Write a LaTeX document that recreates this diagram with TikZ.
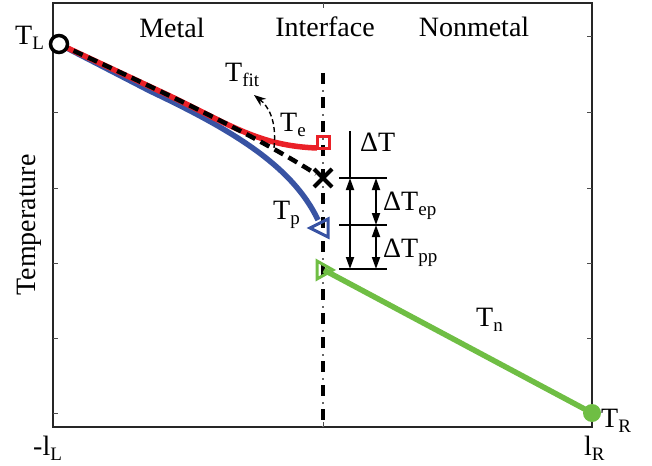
\documentclass[tikz,border=0pt]{standalone}
\usepackage{fontspec}
\setmainfont{Liberation Serif}
\usetikzlibrary{arrows.meta}
\definecolor{tred}{RGB}{234,32,39}
\definecolor{tblue}{RGB}{56,83,163}
\definecolor{tgreen}{RGB}{111,190,68}
\newcommand\Tsub[2]{#1\raisebox{-5pt}{\fontsize{19}{19}\selectfont #2}}
\begin{document}
\begin{tikzpicture}[x=1pt,y=-1pt,
  font=\fontsize{28}{32}\selectfont,
  lab/.style={inner sep=0pt,anchor=base west},
  ttl/.style={inner sep=0pt,anchor=base},
  axisline/.style={line width=1.6pt,black!85},
  tickline/.style={line width=1pt,black!70},
  curve/.style={line width=5.5pt},
  fitline/.style={line width=4.5pt,black,dash pattern=on 10pt off 6pt},
  dimline/.style={line width=1.8pt,black},
  dimarrow/.style={line width=1.8pt,black,{Triangle[length=12pt,width=8pt]}-{Triangle[length=12pt,width=8pt]}}
]
\useasboundingbox (0,0) rectangle (652,465);

% axes box
\coordinate (A00) at (53,3);
\coordinate (A11) at (592,427);
\draw[axisline] (A00) rectangle (A11);
\foreach \yy in {37,113,188,263,338,413}{
  \draw[tickline] (53,\yy) -- (58,\yy);
  \draw[tickline] (592,\yy) -- (587,\yy);
}
\draw[tickline] (323,3) -- (323,8);
\draw[tickline] (323,427) -- (323,422);

% interface line
\coordinate (I0) at (323,73);
\coordinate (I1) at (323,427);
\coordinate (I2) at (323,90);
\draw[line width=4.5pt,black,dash pattern=on 11pt off 13pt] (I0) -- (I1);
\draw[line width=1.5pt,black!60,dash pattern=on 2pt off 22pt] (I2) -- (I1);

% key points
\coordinate (TL) at (59,44);
\coordinate (TR) at (592,413);
\coordinate (Te) at (323,143);
\coordinate (X) at (323,178);
\coordinate (Tp) at (320,228);
\coordinate (Tn) at (324,270);

% blue T_p
\draw[curve,tblue] (TL) -- (150,91) .. controls (230,129) and (292,165) .. (318,220);
% red T_e
\draw[curve,tred] (TL) -- (170,96) .. controls (230,125) and (260,146) .. (317,148);
% black dashed fit
\draw[fitline] (TL) .. controls (150,86) and (250,132) .. (316,174);
% green T_n
\draw[curve,tgreen,line width=5.5pt] (Tn) -- (TR);

% markers
\node[circle,draw=black,line width=3.5pt,fill=white,minimum size=17pt,inner sep=0pt] (mTL) at (TL) {};
\node[circle,fill=tgreen,minimum size=18pt,inner sep=0pt] (mTR) at (TR) {};
\draw[tred,line width=3pt] (317,137) rectangle (329,149);
\draw[black,line width=4pt] (314,169) -- (332,187) (314,187) -- (332,169);
\draw[tblue,line width=3pt,line join=miter] (310,228) -- (328,219) -- (328,237) -- cycle;
\draw[tgreen,line width=3pt,line join=miter] (317,261) -- (333,270) -- (317,279) -- cycle;

% T_fit arrow
\coordinate (F0) at (274,148);
\coordinate (F1) at (254,95);
\draw[line width=1.4pt,dash pattern=on 5pt off 3pt,-{Stealth[length=12pt,width=9pt]}] (F0) .. controls (277,120) and (268,106) .. (F1);

% Delta T dimension lines
\coordinate (D0) at (350,131);
\coordinate (D1) at (350,178);
\coordinate (D2) at (350,269);
\coordinate (E1) at (376,178);
\coordinate (E2) at (376,225);
\coordinate (E3) at (376,269);
\draw[dimline] (D0) -- (D1);
\draw[dimline] (339,178) -- (387,178);
\draw[dimline] (339,225) -- (387,225);
\draw[dimline] (339,269) -- (387,269);
\draw[dimarrow] (D1) -- (D2);
\draw[dimarrow] (E1) -- (E2);
\draw[dimarrow] (E2) -- (E3);

% labels
\node[ttl] (metal) at (172,38) {Metal};
\node[ttl] (iface) at (325,37) {Interface};
\node[ttl] (nonmetal) at (474,37) {Nonmetal};
\node[ttl,rotate=90] (temp) at (35,225) {Temperature};
\node[lab] (lTL) at (15,45) {\Tsub{T}{L}};
\node[lab] (lTR) at (601,427) {\Tsub{T}{R}};
\node[lab] (lxL) at (33,455) {-\Tsub{l}{L}};
\node[lab] (lxR) at (584,455) {\Tsub{l}{R}};
\node[lab] (lfit) at (225,82) {\Tsub{T}{fit}};
\node[lab] (lTe) at (280,132) {\Tsub{T}{e}};
\node[lab] (lTp) at (273,219) {\Tsub{T}{p}};
\node[lab] (lTn) at (476,326) {\Tsub{T}{n}};
\node[lab] (ldT) at (360,152) {ΔT};
\node[lab] (ldTep) at (383,210) {Δ\Tsub{T}{ep}};
\node[lab] (ldTpp) at (383,257) {Δ\Tsub{T}{pp}};
\end{tikzpicture}
\end{document}
